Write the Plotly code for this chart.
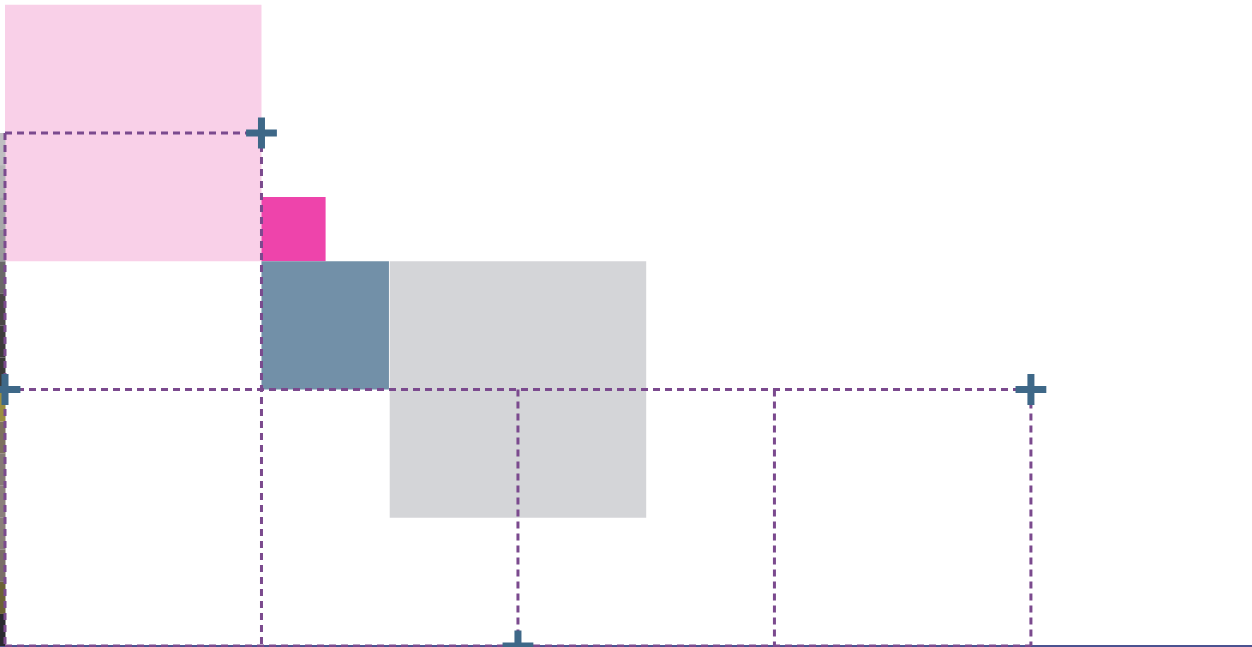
import plotly.graph_objects as go

# Marker points
pt_x = [1, 0, 2, 4]
pt_y = [4, 2, 0, 2]

# Dashed guide segments (x0, y0, x1, y1)
seg_x0 = [0, 0, 1, 0, 2, 3, 4, 0]
seg_y0 = [4, 4, 4, 2, 2, 2, 2, 0]
seg_x1 = [1, 0, 1, 4, 2, 3, 4, 4]
seg_y1 = [4, 0, 0, 2, 0, 0, 0, 0]

# Rectangles (x0, x1, y0, y1, colour)
rect_x0 = [0, 1, 1, 1.5]
rect_x1 = [1, 1.25, 1.497, 2.5]
rect_y0 = [3, 3, 2, 1]
rect_y1 = [5, 3.5, 3, 3]
rect_col = ["#f9d0e8", "#ee44ab", "#7290a8", "#d4d5d8"]

# Narrow picture strip at the left edge, colours from bottom (y=0) to top (y=4)
strip_cols = ["#2a2a30", "#6b6236", "#7a6e68", "#8a7f7a", "#8b807c", "#857a76",
              "#7d7060", "#9a8e40", "#3a3a38", "#3e3c3c", "#4a4646", "#6a6868",
              "#9a9a9c", "#a8a8aa", "#b4b4b6", "#c0c0c2"]
strip_base = [0, 0.25, 0.5, 0.75, 1, 1.25, 1.5, 1.75,
              2, 2.25, 2.5, 2.75, 3, 3.25, 3.5, 3.75]
strip_h = [0.25] * 16
strip_xc = -0.009

fig = go.Figure()

for x0, x1, y0, y1, c in zip(rect_x0, rect_x1, rect_y0, rect_y1, rect_col):
    fig.add_shape(type="rect", x0=x0, x1=x1, y0=y0, y1=y1, xref="x", yref="y",
                  fillcolor=c, line=dict(width=0), layer="below")

fig.add_trace(go.Bar(x=[strip_xc] * len(strip_cols), y=strip_h, base=strip_base,
                     width=0.022, marker=dict(color=strip_cols, line=dict(width=0)),
                     hoverinfo="skip", showlegend=False))

lx, ly = [], []
for a, b, c, d in zip(seg_x0, seg_y0, seg_x1, seg_y1):
    lx += [a, c, None]
    ly += [b, d, None]

fig.add_trace(go.Scatter(x=lx, y=ly, mode="lines",
                         line=dict(color="#7b4a8e", width=3, dash="7px,5px"),
                         hoverinfo="skip", showlegend=False))

fig.add_trace(go.Scatter(x=pt_x, y=pt_y, mode="markers",
                         marker=dict(symbol="cross-thin", size=22,
                                     color="#3e6888",
                                     line=dict(color="#3e6888", width=7)),
                         showlegend=False))

fig.update_layout(
    width=1252, height=647,
    margin=dict(l=0, r=0, t=0, b=0),
    paper_bgcolor="white", plot_bgcolor="white",
    showlegend=False, barmode="overlay",
)
fig.update_xaxes(range=[-0.0195, 4.862], showgrid=False, zeroline=False,
                 showticklabels=False, ticks="", showline=False)
fig.update_yaxes(range=[-0.0078, 5.037], showgrid=False, zeroline=True,
                 zerolinecolor="#4b5290", zerolinewidth=2,
                 showticklabels=False, ticks="", showline=False)

fig.write_html("out.html", config={"displayModeBar": False},
               post_script="document.body.style.margin='0';document.body.style.overflow='hidden';")
